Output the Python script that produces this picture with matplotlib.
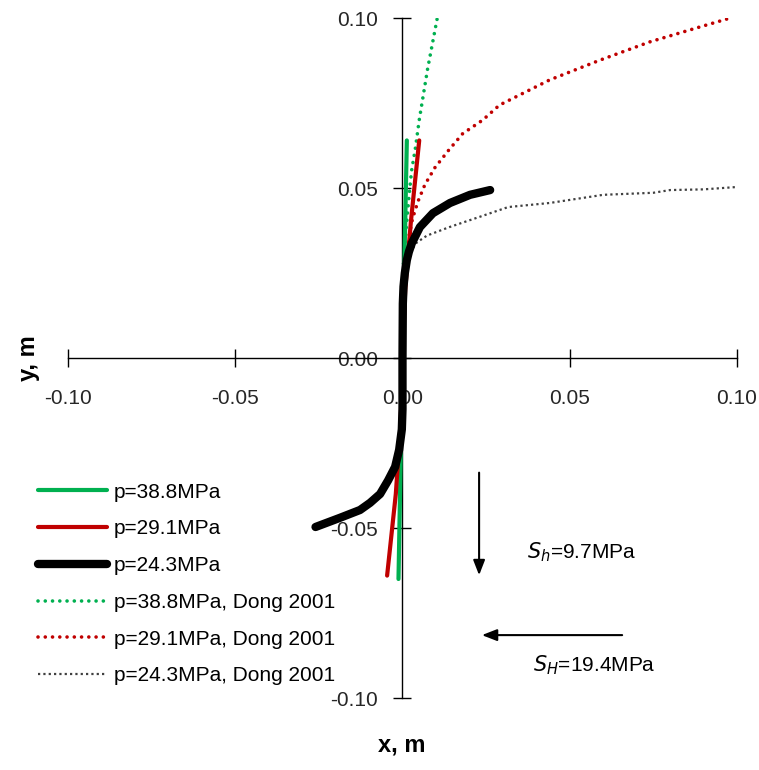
import matplotlib
matplotlib.use("Agg")
import matplotlib.pyplot as plt

plt.rcParams["font.family"] = ["Liberation Sans", "DejaVu Sans"]

# fracture paths (x, y in m)
green_x = [0.0013, 0.0, -0.0012]
green_y = [0.064, 0.0, -0.065]

red_x = [0.005, 0.0025, 0.0008, 0.0, -0.0006, -0.002, -0.0046]
red_y = [0.064, 0.040, 0.020, 0.0, -0.020, -0.040, -0.064]

black_x = [0.0262, 0.0202, 0.0142, 0.0091, 0.0052, 0.0028, 0.0019, 0.0013, 0.0007,
           0.0003, 0.0001, 0.0, 0.0, -0.0002, -0.001, -0.0022, -0.0043, -0.0067,
           -0.0097, -0.0127, -0.0187, -0.026]
black_y = [0.0494, 0.048, 0.0456, 0.0426, 0.0385, 0.0338, 0.0312, 0.0288, 0.025,
           0.021, 0.016, 0.0, -0.015, -0.021, -0.027, -0.032, -0.036, -0.040,
           -0.0426, -0.0447, -0.047, -0.0497]

dong_green_x = [0.0, 0.0, 0.0003, 0.0018, 0.0027, 0.0039, 0.005, 0.0075, 0.0104]
dong_green_y = [0.0, 0.015, 0.029, 0.046, 0.055, 0.062, 0.070, 0.085, 0.100]

dong_red_x = [0.0, 0.0003, 0.001, 0.0022, 0.003, 0.0046, 0.0067, 0.0097, 0.0137,
              0.018, 0.024, 0.029, 0.044, 0.059, 0.074, 0.089, 0.098]
dong_red_y = [0.0, 0.015, 0.029, 0.037, 0.041, 0.046, 0.051, 0.056, 0.061,
              0.066, 0.070, 0.0744, 0.0818, 0.0876, 0.093, 0.0974, 0.100]

dong_gray_x = [0.0, 0.0002, 0.0015, 0.0043, 0.0073, 0.014, 0.023, 0.0316, 0.044,
               0.06, 0.075, 0.08, 0.09, 0.1]
dong_gray_y = [0.0, 0.020, 0.030, 0.034, 0.036, 0.0385, 0.0415, 0.0444, 0.0456,
               0.048, 0.0486, 0.0494, 0.0496, 0.0503]

labels = ["p=38.8MPa", "p=29.1MPa", "p=24.3MPa",
          "p=38.8MPa, Dong 2001", "p=29.1MPa, Dong 2001", "p=24.3MPa, Dong 2001"]
ticks = [-0.10, -0.05, 0.0, 0.05, 0.10]
tick_labels = ["-0.10", "-0.05", "0.00", "0.05", "0.10"]

GREEN = "#00b050"
RED = "#c00000"
GRAY = "#404040"
DOTS = (0, (0.01, 2.0))

fig = plt.figure(figsize=(7.59, 7.70), dpi=100)
ax = fig.add_axes([0.0896, 0.0935, 0.8814, 0.8831])

ax.plot(dong_green_x, dong_green_y, color=GREEN, lw=2.6, ls=DOTS,
        dash_capstyle="round", label=labels[3], zorder=2)
ax.plot(dong_red_x, dong_red_y, color=RED, lw=2.6, ls=DOTS,
        dash_capstyle="round", label=labels[4], zorder=2)
ax.plot(dong_gray_x, dong_gray_y, color=GRAY, lw=1.6, ls=(0, (1, 1.4)),
        label=labels[5], zorder=2)
ax.plot(green_x, green_y, color=GREEN, lw=3, solid_capstyle="round",
        label=labels[0], zorder=3)
ax.plot(red_x, red_y, color=RED, lw=3, solid_capstyle="round",
        label=labels[1], zorder=4)
ax.plot(black_x, black_y, color="black", lw=6, solid_capstyle="round",
        solid_joinstyle="round", label=labels[2], zorder=5)

ax.set_xlim(-0.10, 0.10)
ax.set_ylim(-0.10, 0.10)
ax.spines["left"].set_position(("data", 0))
ax.spines["bottom"].set_position(("data", 0))
ax.spines["top"].set_visible(False)
ax.spines["right"].set_visible(False)
ax.spines["left"].set_linewidth(1)
ax.spines["bottom"].set_linewidth(1)
ax.set_xticks(ticks)
ax.set_yticks(ticks)
ax.set_xticklabels(tick_labels)
ax.set_yticklabels(tick_labels)
ax.tick_params(direction="inout", length=13, width=1, labelsize=15,
               labelcolor="#262626")
ax.tick_params(axis="x", pad=16)
ax.tick_params(axis="y", pad=11)
for t in ax.get_xticklabels() + ax.get_yticklabels():
    t.set_zorder(1)
ax.set_facecolor("none")

fig.text(0.5298, 0.017, "x, m", fontsize=17, fontweight="bold",
         ha="center", va="bottom")
fig.text(0.038, 0.535, "y, m", fontsize=17, fontweight="bold",
         rotation=90, ha="center", va="center")

handles, labs = ax.get_legend_handles_labels()
order = [3, 4, 5, 0, 1, 2]
ax.legend([handles[i] for i in order], [labs[i] for i in order],
          loc="upper left", bbox_to_anchor=(0.0506, 0.373), bbox_transform=fig.transFigure,
          frameon=False, fontsize=15, handlelength=3.3, handletextpad=0.33,
          labelspacing=0.85, borderaxespad=0, borderpad=0)

# stress arrows
ax.annotate("", xy=(0.0229, -0.0647), xytext=(0.0229, -0.0329),
            arrowprops=dict(arrowstyle="-|>,head_length=0.9,head_width=0.35",
                            color="black", lw=1.5))
ax.annotate("", xy=(0.0229, -0.0815), xytext=(0.0665, -0.0815),
            arrowprops=dict(arrowstyle="-|>,head_length=0.9,head_width=0.35",
                            color="black", lw=1.5))
ax.text(0.0372, -0.057, r"$\mathit{S_h}$=9.7MPa", fontsize=15, va="center")
ax.text(0.039, -0.0903, r"$\mathit{S_H}$=19.4MPa", fontsize=15, va="center")

fig.savefig("out.png", dpi=100)
